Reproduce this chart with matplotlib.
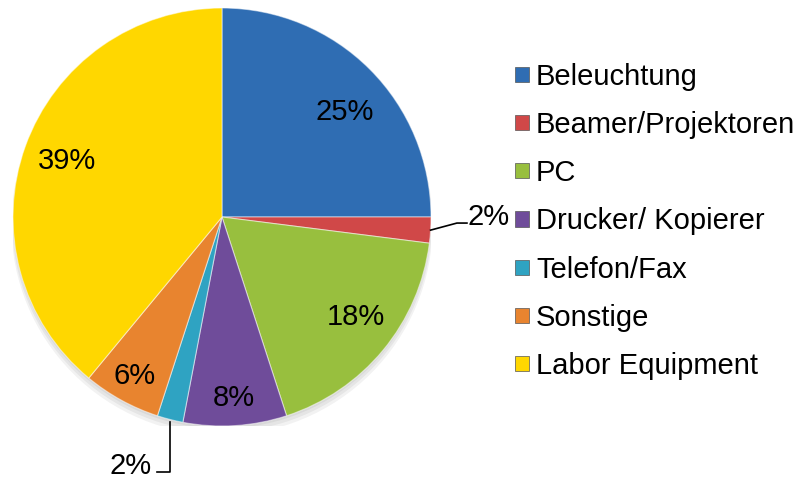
import matplotlib.pyplot as plt
import numpy as np
from matplotlib import rcParams
from matplotlib.patches import Circle

rcParams['font.family'] = ['Liberation Sans', 'DejaVu Sans']

## data
categories = ['Beleuchtung', 'Beamer/Projektoren', 'PC', 'Drucker/ Kopierer',
              'Telefon/Fax', 'Sonstige', 'Labor Equipment']
shares = [25, 2, 18, 8, 2, 6, 39]
pct_labels = ['25%', '2%', '18%', '8%', '2%', '6%', '39%']
colors = ['#2f6db3', '#d04848', '#98bf3e', '#6f4c9a', '#2fa3c2', '#e8842f', '#ffd700']

# label distance from centre (fraction of radius), None = outside label
label_r = [0.77, None, 0.80, 0.87, None, 0.87, 0.79]
label_dang = [-4.5, 0, 2.8, 0, 0, 0, 0]  # small angle tweak (deg) for inside labels

FS = 21

fig = plt.figure(figsize=(8.01, 4.79), dpi=100)
W, H = 801, 479
cx, cy, R = 222, 217, 209  # pie centre/radius in pixels
ax = fig.add_axes([(cx - R) / W, (H - cy - R) / H, 2 * R / W, 2 * R / H])

# soft shadow under pie
for i, a in enumerate([0.05, 0.05, 0.05]):
    ax.add_patch(Circle((0, -0.012 * (i + 1)), 1.0 + 0.004 * i, color='black', alpha=a, lw=0, zorder=0))

wedges, _ = ax.pie(shares, colors=colors, startangle=90, counterclock=False,
                   wedgeprops=dict(edgecolor=(1, 1, 1, 0.5), linewidth=0.8))
ax.set_xlim(-1, 1)
ax.set_ylim(-1, 1)
ax.set_aspect('equal')

for w, lab, r, da in zip(wedges, pct_labels, label_r, label_dang):
    mid = np.deg2rad((w.theta1 + w.theta2) / 2 + da)
    if r is not None:
        ax.text(r * np.cos(mid), r * np.sin(mid), lab, ha='center', va='center', fontsize=FS)

# outside labels with leader lines
# Beamer/Projektoren
w = wedges[1]
mid = np.deg2rad((w.theta1 + w.theta2) / 2)
x0, y0 = np.cos(mid), np.sin(mid)
ax.plot([x0, 1.124, 1.172], [y0, -0.029, -0.029], color='black', lw=1.2, clip_on=False)
ax.text(1.175, 0.0, pct_labels[1], ha='left', va='center', fontsize=FS, clip_on=False)

# Telefon/Fax
w = wedges[4]
mid = np.deg2rad((w.theta1 + w.theta2) / 2)
x0, y0 = np.cos(mid), np.sin(mid)
ax.plot([x0, x0, x0 - 0.06], [y0 - 0.01, -1.22, -1.22], color='black', lw=1.2, clip_on=False)
ax.text(x0 - 0.09, -1.19, pct_labels[4], ha='right', va='center', fontsize=FS, clip_on=False)

leg = fig.legend(wedges, categories, loc='upper left', bbox_to_anchor=(515 / W, 1 - 63 / H),
                 frameon=False, fontsize=FS, handlelength=0.48, handleheight=0.42,
                 handletextpad=0.24, labelspacing=0.69, borderaxespad=0, borderpad=0)
for h in leg.legend_handles:
    h.set_edgecolor('#555555')
    h.set_linewidth(0.5)

plt.savefig('out.png', dpi=100)
